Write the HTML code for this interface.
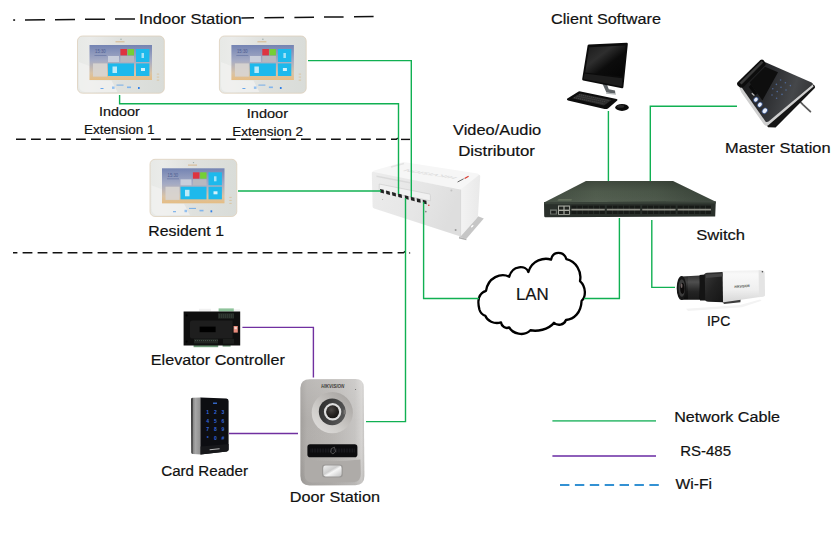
<!DOCTYPE html>
<html lang="en">
<head>
<meta charset="utf-8">
<title>Video Intercom Network Topology</title>
<style>
html,body{margin:0;padding:0;background:#fff;}
body{width:835px;height:556px;overflow:hidden;}
svg{display:block;}
text{font-family:"Liberation Sans",Arial,Helvetica,sans-serif;fill:#111;}
.t1{font-size:15.1px;stroke:#111;stroke-width:0.2px;}
.t2{font-size:13.1px;stroke:#111;stroke-width:0.18px;}
.t3{font-size:16.5px;stroke:#111;stroke-width:0.2px;}
.kp text{font-size:5px;font-weight:bold;fill:#3568de;}
.net{stroke:#10b052;stroke-width:1.4;fill:none;}
.rs{stroke:#7030a0;stroke-width:1.4;fill:none;}
.dash{stroke:#111;stroke-width:1.4;fill:none;}
</style>
</head>
<body>
<svg width="835" height="556" viewBox="0 0 835 556">
<defs>
  <linearGradient id="scr" x1="0" y1="0" x2="0" y2="1">
    <stop offset="0" stop-color="#7484b3"/>
    <stop offset="0.45" stop-color="#a5abc4"/>
    <stop offset="0.8" stop-color="#d9c3a6"/>
    <stop offset="1" stop-color="#e6bd83"/>
  </linearGradient>
  <linearGradient id="bod" x1="0" y1="0" x2="1" y2="0">
    <stop offset="0" stop-color="#e7e9e6"/>
    <stop offset="0.14" stop-color="#eaebe9"/>
    <stop offset="0.5" stop-color="#dfe1de"/>
    <stop offset="1" stop-color="#d9dcd8"/>
  </linearGradient>
  <g id="indoor">
    <rect x="0" y="0" width="86.8" height="57.2" rx="5" ry="5" fill="url(#bod)" stroke="#dccdb8" stroke-width="0.75"/>
    <path d="M1.5 48 Q1.5 56 8 56 L40 56 L34 44.5 L12 44.5 L12 30 L1.5 26 Z" fill="#f1f2f0" opacity="0.75"/>
    <rect x="12" y="9" width="62.5" height="35" fill="url(#scr)"/>
    <rect x="42.9" y="13" width="6.6" height="6.4" fill="#de3440"/>
    <rect x="50.1" y="13" width="6.4" height="6.4" fill="#74cf35"/>
    <rect x="30.5" y="20" width="11" height="6" fill="#c9cedb"/>
    <rect x="42.9" y="20" width="13.6" height="6" fill="#b7b8bf"/>
    <rect x="58.5" y="13" width="13.4" height="13" fill="#1db9ec"/>
    <rect x="30.5" y="27.4" width="26" height="12.6" fill="#1db9ec"/>
    <rect x="58.5" y="27.4" width="13.4" height="12.6" fill="#1db9ec"/>
    <rect x="15.5" y="27.4" width="14" height="13.2" fill="#d8d5d2" opacity="0.9"/>
    <text x="17.6" y="17.4" textLength="10.6" lengthAdjust="spacingAndGlyphs" style="font-size:4.6px;fill:#44538a;opacity:0.85">15:30</text>
    <rect x="17" y="19" width="12" height="1" fill="#56659a" opacity="0.5"/>
    <rect x="35" y="30.5" width="4.5" height="6.5" fill="#d9f3fc" opacity="0.85"/>
    <rect x="63.5" y="32" width="4" height="3" fill="#e9f8fd" opacity="0.9"/>
    <rect x="64" y="17" width="2.5" height="5" fill="#c8eefa" opacity="0.8"/>
    <rect x="38" y="5.3" width="9" height="1" fill="#d2a873" opacity="0.75"/>
    <circle cx="43.5" cy="3.3" r="0.7" fill="#9aa"/>
    <rect x="23" y="52" width="3" height="0.9" fill="#5aa0ea"/>
    <rect x="34.5" y="50.5" width="2.6" height="2.4" fill="#7ab4f0" opacity="0.8"/>
    <rect x="39" y="48.6" width="7" height="1" fill="#5aa0ea" opacity="0.8"/>
    <rect x="49.5" y="50.5" width="4" height="1.6" fill="#6aaaf0" opacity="0.8"/>
    <rect x="60.5" y="51" width="1.7" height="2" fill="#2f7fe6"/>
    <g fill="#d9c6a4"><rect x="79.3" y="37.6" width="2.4" height="1"/><rect x="79.3" y="40.6" width="2.4" height="1"/><rect x="79.3" y="43.6" width="2.4" height="1"/></g>
  </g>
</defs>

<rect x="0" y="0" width="835" height="556" fill="#ffffff"/>

<!-- dashed separators -->
<g class="dash">
  <rect x="13.2" y="19.2" width="1.9" height="1.7" fill="#222" stroke="none"/>
  <path d="M25 19.9 L135 18.9" stroke-dasharray="20 10" stroke-width="1.5"/>
  <path d="M241.4 17.9 L254 17.8 M264.4 17.7 L284 17.5 M294.4 17.4 L314 17.2 M324 17.1 L343.6 16.9 M354 16.8 L373.6 16.6" stroke-width="1.5"/>
  <path d="M16 139.3 L396.4 139.3 L397.8 137.9" stroke-dasharray="9.8 5.2"/>
  <path d="M401 139.4 H410"/>
  <path d="M13 252.7 L403.4 252.7 L405.2 251.4" stroke-dasharray="9.8 5.2" stroke-dashoffset="5.4"/>
  <circle cx="409.6" cy="252.9" r="0.7" fill="#111" stroke="none"/>
</g>

<!-- indoor stations -->
<use href="#indoor" x="77.5" y="36"/>
<use href="#indoor" x="219.4" y="36"/>
<use href="#indoor" x="150" y="159.3"/>

<!-- ===== Video/Audio distributor ===== -->
<g id="distributor">
  <defs>
    <linearGradient id="dfront" x1="0" y1="0" x2="1" y2="0.3">
      <stop offset="0" stop-color="#ececec"/><stop offset="0.6" stop-color="#e6e6e6"/><stop offset="1" stop-color="#dedede"/>
    </linearGradient>
    <linearGradient id="dside" x1="0" y1="0" x2="1" y2="0">
      <stop offset="0" stop-color="#f3f3f3"/><stop offset="1" stop-color="#e9e9e9"/>
    </linearGradient>
  </defs>
  <!-- flange -->
  <path d="M459 237 L478 216.2 L483.8 218.4 L466.4 238.8 Z" fill="#c6c6c6"/>
  <path d="M459 237 L466.4 238.8 L466.4 240.2 L459 238.4 Z" fill="#b0b0b0"/>
  <ellipse cx="472.2" cy="226.2" rx="1.6" ry="0.8" fill="#fff" transform="rotate(-45 472.2 226.2)"/>
  <!-- top face -->
  <path d="M373.5 170.8 L401.5 162.4 Q403 161.8 405 162.2 L477.5 173.6 Q480 174.2 479 176 L462 189.6 L372 172.4 Z" fill="#f6f6f6"/>
  <!-- front face -->
  <path d="M371.8 173.5 Q371.6 171.6 373.6 171.9 L460.6 189.4 L460.6 236.6 L374.2 208.6 Q372.6 208 372.6 206.4 Z" fill="url(#dfront)"/>
  <!-- right side -->
  <path d="M460.6 189.4 L478.6 175.2 Q480.2 174.4 480.2 176.4 L478 215.6 Q478 217 477 218 L460.6 236.6 Z" fill="url(#dside)"/>
  <path d="M460.6 189.6 L460.6 236.4" stroke="#d2d2d2" stroke-width="0.8" fill="none"/>
  <!-- top embossing -->
  <path d="M391 167 L404 163.6" stroke="#e4e4e4" stroke-width="1.6" fill="none"/>
  <text x="0" y="0" textLength="52" lengthAdjust="spacingAndGlyphs" transform="matrix(-0.985 -0.155 0.6 -0.36 457.6 177.2)" style="font-size:8px;font-weight:bold;font-style:italic;fill:#dedede">HIKVISION</text>
  <path d="M464.6 178.6 L468.6 176.2" stroke="#d83a30" stroke-width="1.2"/>
  <path d="M457.6 182 L463.6 178.8" stroke="#555" stroke-width="0.9"/>
  <!-- front panels -->
  <path d="M376.5 175.4 L410 182 L410 183.6 L376.5 177 Z" fill="#dadada"/>
  <path d="M379.2 184 L429.4 194 Q430.4 194.2 430.4 195.4 L430.4 200.8 L379.2 190.6 Z" fill="#f1f1f1" stroke="#cfcfcf" stroke-width="0.7"/>
  <!-- ports -->
  <g fill="#222">
    <path d="M380.0 188.9 L383.7 189.8 L384.0 193.4 L380.3 192.5 Z"/>
    <path d="M386.0 190.4 L389.7 191.4 L390.0 195.0 L386.3 194.0 Z"/>
    <path d="M392.0 192.0 L395.7 192.9 L396.0 196.5 L392.3 195.6 Z"/>
    <path d="M398.0 193.5 L401.7 194.4 L402.0 198.0 L398.3 197.1 Z"/>
    <path d="M404.7 195.2 L408.4 196.2 L408.7 199.8 L405.0 198.8 Z"/>
    <path d="M410.7 196.7 L414.4 197.7 L414.7 201.3 L411.0 200.3 Z"/>
    <path d="M416.7 198.3 L420.4 199.2 L420.7 202.8 L417.0 201.9 Z"/>
    <path d="M422.7 199.8 L426.4 200.7 L426.7 204.3 L423.0 203.4 Z"/>
  </g>
  <circle cx="428.8" cy="205.2" r="0.8" fill="#d33"/>
  <circle cx="425.8" cy="211.6" r="0.9" fill="#8a8a8a"/>
  <circle cx="451.4" cy="190.4" r="1" fill="#c2c2c2"/>
  <circle cx="455.6" cy="230" r="1" fill="#9a9a9a"/>
  <circle cx="382.6" cy="199.4" r="0.5" fill="#aaa"/>
</g>

<!-- ===== LAN cloud ===== -->
<g transform="translate(460,238.4) scale(0.2,0.206)">
  <path d="M130 255 C95 265 85 300 97 345 C103 365 115 372 127 376 C135 400 170 418 205 408
           C208 428 228 440 246 432 C262 462 320 478 352 446 C385 452 440 445 470 410
           C488 425 520 422 530 396 C570 392 605 362 608 303 C630 285 632 235 600 207
           C610 160 580 112 532 101 C520 62 465 58 455 103 C420 92 360 105 342 163
           C330 130 262 128 246 186 C205 165 140 190 130 255 Z"
        fill="#fff" stroke="#000" stroke-width="11.6" stroke-linejoin="round"/>
</g>

<!-- ===== Switch ===== -->
<g id="switch">
  <defs>
    <linearGradient id="swtop" x1="0" y1="0" x2="1" y2="0">
      <stop offset="0" stop-color="#414c40"/><stop offset="0.3" stop-color="#515d4e"/><stop offset="0.65" stop-color="#4b5749"/><stop offset="1" stop-color="#384238"/>
    </linearGradient>
    <linearGradient id="swtopv" x1="0" y1="0" x2="0" y2="1">
      <stop offset="0" stop-color="#000" stop-opacity="0.22"/><stop offset="0.5" stop-color="#000" stop-opacity="0.02"/><stop offset="1" stop-color="#fff" stop-opacity="0.03"/>
    </linearGradient>
  </defs>
  <path d="M586 181 L673 181 L715.8 201.8 L544 202.6 Z" fill="url(#swtop)"/>
  <path d="M586 181 L673 181 L715.8 201.8 L544 202.6 Z" fill="url(#swtopv)"/>
  <path d="M544 202.2 L715.8 201.4 L715.2 216.6 L545.4 217.2 Q544.2 217.2 544.2 216 Z" fill="#2a302b"/>
  <path d="M544 202.2 L715.8 201.4 L715.8 203.4 L544 204.2 Z" fill="#394239"/>
  <path d="M558.6 199.2 L572 199.2 L571.2 200.6 L557.4 200.6 Z" fill="#6d7863"/>
  <!-- mgmt port + rj45 -->
  <rect x="550" y="209.4" width="6.9" height="5.1" fill="#6f756e"/>
  <rect x="551.2" y="210.8" width="4.6" height="2.8" fill="#1c1f1c"/>
  <rect x="558" y="205.5" width="11.9" height="9.3" fill="#aaaca3"/>
  <g fill="#20231f">
    <rect x="559" y="206.6" width="4.4" height="3"/><rect x="564.6" y="206.6" width="4.4" height="3"/>
    <rect x="559" y="211" width="4.4" height="3"/><rect x="564.6" y="211" width="4.4" height="3"/>
  </g>
  <!-- sfp cages -->
  <g fill="#171a17">
    <rect x="571.4" y="205.6" width="33.4" height="8.4"/><rect x="606.8" y="205.6" width="33.4" height="8.4"/>
    <rect x="642.2" y="205.6" width="33.4" height="8.4"/><rect x="677.6" y="205.6" width="33.4" height="8.4"/>
  </g>
  <g stroke="#2e352f" stroke-width="8.4" stroke-dasharray="0.7 4.9" fill="none">
    <path d="M576.6 209.8 H604"/><path d="M612 209.8 H640"/><path d="M647.4 209.8 H675"/><path d="M682.8 209.8 H710.6"/>
  </g>
  <g stroke="#8f9087" stroke-width="1.7" fill="none">
    <path d="M571.4 209.6 H604.8"/><path d="M606.8 209.6 H640.2"/><path d="M642.2 209.6 H675.6"/><path d="M677.6 209.6 H711"/>
  </g>
</g>

<!-- ===== Client PC ===== -->
<g id="pc">
  <defs>
    <linearGradient id="mon" x1="0" y1="0" x2="1" y2="1">
      <stop offset="0" stop-color="#1a1a1a"/><stop offset="0.35" stop-color="#2e2e2e"/><stop offset="0.6" stop-color="#0c0c0c"/><stop offset="1" stop-color="#050505"/>
    </linearGradient>
  </defs>
  <!-- stand -->
  <path d="M602.6 84 L606.4 92.6 L615.4 93.8 L615 90.6 L608.8 89.2 L606.4 83 Z" fill="#5f6467"/>
  <path d="M606.4 92.4 L615.6 93.4 L616 94.8 L606 93.8 Z" fill="#aeb2b4"/>
  <!-- monitor -->
  <path d="M587.6 45.4 Q588 44.6 589 44.6 L626.6 42.8 Q628 42.8 627.8 44.2 L623.4 87 Q623.2 88.4 622 88.2 L583.2 80.4 Q582 80.2 582.2 79 Z" fill="#0b0b0b"/>
  <path d="M589.2 47.2 L625.6 45.4 L622.6 76.6 L585.2 72.4 Z" fill="url(#mon)"/>
  <path d="M584.4 73.6 L622.4 78.2 L621.8 86.4 L583.6 79 Z" fill="#1d1d1d"/>
  <!-- keyboard -->
  <path d="M567 98.8 L578.6 91.6 Q579.4 91.2 580.6 91.4 L616.6 99 Q618.2 99.6 617.2 100.6 L608 108.4 Q606.6 109.4 604.6 109 L568 100.6 Q566.4 99.8 567 98.8 Z" fill="#0d0d0d"/>
  <path d="M572 98.2 L580 93.6 L611.6 100 L604 105.4 Z" fill="#2c2c2c"/>
  <path d="M574 97.6 L603.6 103.6 M576.6 96 L606.4 102 M579 94.6 L609 100.6" stroke="#555" stroke-width="0.6" stroke-dasharray="1.2 0.8" fill="none"/>
  <!-- mouse -->
  <ellipse cx="622" cy="107.4" rx="6.8" ry="3.5" fill="#0c0c0c"/>
  <ellipse cx="620.6" cy="106.4" rx="3.6" ry="1.4" fill="#2a2a2a"/>
</g>

<!-- ===== Master station ===== -->
<g id="master">
  <defs>
    <linearGradient id="mst" x1="0" y1="0" x2="1" y2="0.25">
      <stop offset="0" stop-color="#161616"/><stop offset="0.45" stop-color="#2c2d30"/><stop offset="0.8" stop-color="#45474a"/><stop offset="1" stop-color="#38393b"/>
    </linearGradient>
  </defs>
  <!-- stand stick -->
  <path d="M800 101.6 L803.2 104.8 L810.4 111.6" stroke="#5a5a5a" stroke-width="1.8" fill="none" stroke-linecap="round" stroke-linejoin="round"/>
  <!-- black base under the rim -->
  <path d="M766.4 124.4 L768 127.2 L775.6 127.4 L814.8 88 Q815.6 86.6 814.4 85.4 L812 83.6 Z" fill="#151515"/>
  <!-- silver rim -->
  <path d="M739.4 88 L741.4 92.4 L764 124.6 Q765.6 126.4 768 125.6 L813.6 86.4 L812.4 84 L768 121.6 L764.6 120.4 L742 87.6 Z" fill="#cfcfcf"/>
  <!-- body -->
  <path d="M763.6 62 L741 86.6 L765.4 121.4 Q766.8 122.6 768.6 121.6 L812.4 84.8 Q813.4 83.4 811.6 82.4 L766 62.4 Z" fill="url(#mst)"/>
  <!-- screen -->
  <path d="M765 66.8 L778 72.2 L762.4 100.4 L749.6 82.6 Z" fill="#0e0e0e"/>
  <path d="M751 84.6 L757.4 93.4 L755 95.6 L748.6 87 Z" fill="#0b0b0b"/>
  <!-- handset -->
  <path d="M760.4 60 Q762 59 763.4 60 L765.6 63 Q766 64.6 765 65.6 L744 86.6 Q742 88.4 740 87.4 L737.6 85.4 Q736.4 83.8 737.6 82.2 Z" fill="#0d0d0d"/>
  <path d="M761.6 61 L763.4 62.6 L741.6 84.4 L739.6 82.8 Z" fill="#3a3a3a"/>
  <!-- keypad dots -->
  <g fill="#5878b4" opacity="0.75">
    <circle cx="780.6" cy="80" r="0.8"/><circle cx="785.4" cy="82.8" r="0.8"/><circle cx="790.4" cy="85.6" r="0.8"/>
    <circle cx="776.4" cy="84.4" r="0.8"/><circle cx="781" cy="87.2" r="0.8"/><circle cx="786" cy="90" r="0.8"/>
    <circle cx="772.8" cy="88.8" r="0.8"/><circle cx="777.2" cy="91.6" r="0.8"/><circle cx="782" cy="94.4" r="0.8"/>
    <circle cx="772" cy="95" r="0.8"/><circle cx="776.6" cy="98.2" r="0.8"/>
  </g>
  <rect x="751.6" y="93.6" width="3.4" height="1.2" fill="#bbb" transform="rotate(40 753 94)"/>
  <!-- buttons -->
  <g fill="#4b74c8" opacity="0.55">
    <ellipse cx="755.9" cy="99.6" rx="2.5" ry="3" transform="rotate(40 755.9 99.6)"/>
    <ellipse cx="759.9" cy="104.7" rx="2.6" ry="3.1" transform="rotate(40 759.9 104.7)"/>
    <ellipse cx="764.8" cy="110.8" rx="2.8" ry="3.4" transform="rotate(40 764.8 110.8)"/>
  </g>
  <g fill="#e6ecf8">
    <ellipse cx="755.9" cy="99.6" rx="1.6" ry="2.2" transform="rotate(40 755.9 99.6)"/>
    <ellipse cx="759.9" cy="104.7" rx="1.7" ry="2.3" transform="rotate(40 759.9 104.7)"/>
    <ellipse cx="764.8" cy="110.8" rx="1.9" ry="2.6" transform="rotate(40 764.8 110.8)"/>
  </g>
</g>

<!-- ===== IPC camera ===== -->
<g id="ipc">
  <defs>
    <linearGradient id="camb" x1="0" y1="0" x2="0" y2="1">
      <stop offset="0" stop-color="#efefef"/><stop offset="0.12" stop-color="#f9f9f9"/><stop offset="0.6" stop-color="#efefef"/><stop offset="1" stop-color="#d6d6d6"/>
    </linearGradient>
    <linearGradient id="lens" x1="0" y1="0" x2="0" y2="1">
      <stop offset="0" stop-color="#262626"/><stop offset="0.28" stop-color="#444"/><stop offset="0.65" stop-color="#181818"/><stop offset="1" stop-color="#0a0a0a"/>
    </linearGradient>
    <linearGradient id="camk" x1="0" y1="0" x2="1" y2="1">
      <stop offset="0" stop-color="#3a3a3a"/><stop offset="0.5" stop-color="#222"/><stop offset="1" stop-color="#151515"/>
    </linearGradient>
  </defs>
  <!-- reflection -->
  <path d="M686 308.8 L740 305 L760 299.4 L761.6 300.8 L742 307.2 L688 311 Z" fill="#f3f3f3"/>
  <!-- mount -->
  <path d="M721.6 300.4 L740.8 297.8 L740.4 302.2 L724 304 Z" fill="#3c3c3c"/>
  <!-- white body -->
  <path d="M720.4 272.2 Q720.4 271 722 270.9 L761.6 270.2 Q764.4 270.2 764.6 272.6 L765 294.4 Q765 296.2 763.2 296.6 L722 302.4 Z" fill="url(#camb)"/>
  <path d="M758.6 270.3 L761.6 270.2 Q764.4 270.2 764.6 272.6 L765 294.4 Q765 296.2 763.2 296.6 L759 297.2 Z" fill="#e4e4e4"/>
  <circle cx="762.4" cy="271.8" r="0.8" fill="#444"/>
  <text x="734.6" y="288" textLength="15.2" lengthAdjust="spacingAndGlyphs" transform="rotate(-4 734.6 288)" style="font-size:3.6px;font-weight:bold;font-style:italic;fill:#444">HIKVISION</text>
  <!-- black front housing -->
  <path d="M703.6 276 Q704 273.2 707.4 272.8 L722.6 272 L723 302.2 L708.6 301.8 Q704.6 301.4 704.2 298 Z" fill="url(#camk)"/>
  <path d="M706 274.4 L722.6 273.2 L722.6 276.4 L706 278 Z" fill="#444"/>
  <!-- lens barrel -->
  <path d="M681.4 276.4 L704.6 275.2 L705 299.8 L681.4 299.8 Z" fill="url(#lens)"/>
  <path d="M688 276.2 L699 275.6 L699.4 299.8 L688 299.8 Z" fill="#fff" opacity="0.06"/>
  <path d="M699.6 275 L704.8 274.6 L705.2 300.6 L700 300.4 Z" fill="#141414"/>
  <ellipse cx="681.5" cy="287.9" rx="4.8" ry="12" fill="#151515"/>
  <ellipse cx="681.8" cy="288" rx="3.3" ry="8.8" fill="#3c3c3c"/>
  <ellipse cx="682.4" cy="288.4" rx="2.2" ry="5.6" fill="#0c0a0a"/>
  <ellipse cx="681.6" cy="285.8" rx="0.9" ry="2.2" fill="#8a7a7a" opacity="0.8"/>
</g>

<!-- ===== Elevator controller ===== -->
<g id="elev">
  <rect x="218.6" y="308.4" width="15.2" height="3.2" fill="#8fc39b"/>
  <rect x="199" y="308.8" width="12" height="2.6" fill="#f1f1f1"/>
  <rect x="193.6" y="343.6" width="24.6" height="3.6" fill="#6e9a78"/>
  <rect x="222.6" y="343.6" width="8" height="3" fill="#6e9a78"/>
  <rect x="234" y="309" width="6" height="3" fill="#f4f4f4"/>
  <path d="M183.6 311.4 H240.2 V345.6 H183.6 Z" fill="#0f0f0f"/>
  <path d="M190 322.6 Q190 320.4 192.4 320.4 H232.6 V338.6 H192.4 Q190 338.6 190 336.4 Z" fill="#1e1e1e"/>
  <rect x="199.6" y="326.6" width="16" height="5.6" fill="#000"/>
  <rect x="218" y="313.2" width="16" height="5.4" fill="#252a26"/>
  <path d="M219 315 H233.6 M219 317 H233.6" stroke="#4c5a50" stroke-width="0.6" stroke-dasharray="1 1" fill="none"/>
  <rect x="194" y="338.8" width="24" height="4.6" fill="#222623"/>
  <path d="M195 340.6 H217.6" stroke="#56655a" stroke-width="0.7" stroke-dasharray="1 1" fill="none"/>
  <rect x="223" y="338.8" width="11" height="5" fill="#1d1f1d"/>
  <circle cx="186.6" cy="315.4" r="1.1" fill="#000"/><circle cx="186.6" cy="341.6" r="1.1" fill="#000"/>
  <rect x="233.6" y="326" width="4.2" height="6.6" fill="#e98c7c"/>
  <rect x="234.4" y="327" width="2.4" height="2.2" fill="#f6d6cf"/>
</g>

<!-- ===== Card reader ===== -->
<g id="card">
  <defs>
    <linearGradient id="crs" x1="0" y1="0" x2="1" y2="0">
      <stop offset="0" stop-color="#6e6e6e"/><stop offset="0.45" stop-color="#a6a6a6"/><stop offset="1" stop-color="#8c8c8c"/>
    </linearGradient>
  </defs>
  <path d="M191 399.6 Q191 397.9 192.8 397.8 L201 397.4 L201 454.4 L193 454 Q191.4 453.8 191.4 452.4 Z" fill="url(#crs)"/>
  <path d="M191 399.6 Q191 397.9 192.8 397.8 L192.6 454 Q191.4 453.8 191.4 452.4 Z" fill="#3a3a3a"/>
  <path d="M200.6 397.4 L226.4 398.6 Q228.6 398.8 228.6 401 L228.6 449.6 Q228.6 451.2 226.8 451.4 L200.6 454.4 Z" fill="#0d0e12"/>
  <path d="M200.6 446.4 L228.6 444 L228.6 449.6 Q228.6 451.2 226.8 451.4 L200.6 454.4 Z" fill="#17181b"/>
  <rect x="213" y="402.6" width="4" height="1.2" fill="#3d7cf0"/>
  <g class="kp" text-anchor="middle">
    <text x="207.7" y="414.2">1</text>
    <text x="215.3" y="414.2">2</text>
    <text x="223.0" y="414.2">3</text>
    <text x="207.7" y="422.6">4</text>
    <text x="215.3" y="422.6">5</text>
    <text x="223.0" y="422.6">6</text>
    <text x="207.7" y="431.4">7</text>
    <text x="215.3" y="431.4">8</text>
    <text x="223.0" y="431.4">9</text>
    <text x="207.7" y="439.8">*</text>
    <text x="215.3" y="439.8">0</text>
    <text x="223.0" y="439.8">#</text>
  </g>
  <path d="M209.6 449.8 L219.6 448.8" stroke="#bbb" stroke-width="1.1" fill="none"/>
</g>

<!-- ===== Door station ===== -->
<g id="door">
  <defs>
    <linearGradient id="dsb" x1="0" y1="0" x2="1" y2="0">
      <stop offset="0" stop-color="#a29f9c"/><stop offset="0.1" stop-color="#b1aeab"/><stop offset="0.5" stop-color="#b9b6b3"/><stop offset="0.85" stop-color="#c6c4c2"/><stop offset="0.96" stop-color="#d6d4d2"/><stop offset="1" stop-color="#c4c2c0"/>
    </linearGradient>
    <linearGradient id="dsb2" x1="0" y1="0" x2="0" y2="1">
      <stop offset="0" stop-color="#fff" stop-opacity="0.14"/><stop offset="0.4" stop-color="#fff" stop-opacity="0"/><stop offset="1" stop-color="#000" stop-opacity="0.07"/>
    </linearGradient>
    <linearGradient id="dsring" x1="0.85" y1="0.1" x2="0.15" y2="0.9">
      <stop offset="0" stop-color="#a9a6a3"/><stop offset="0.35" stop-color="#bcb9b6"/><stop offset="0.7" stop-color="#d0cecb"/><stop offset="1" stop-color="#dcdad8"/>
    </linearGradient>
    <linearGradient id="dsdark" x1="0" y1="0" x2="1" y2="0.4">
      <stop offset="0" stop-color="#2b2b2b"/><stop offset="1" stop-color="#555"/>
    </linearGradient>
    <radialGradient id="dslens" cx="0.4" cy="0.35" r="0.7">
      <stop offset="0" stop-color="#4a4644"/><stop offset="0.6" stop-color="#262321"/><stop offset="1" stop-color="#151312"/>
    </radialGradient>
    <linearGradient id="dsbtn" x1="0" y1="0" x2="1" y2="1">
      <stop offset="0" stop-color="#f0f0f0"/><stop offset="0.42" stop-color="#cdcdcd"/><stop offset="0.55" stop-color="#f6f6f6"/><stop offset="1" stop-color="#c2c2c2"/>
    </linearGradient>
  </defs>
  <path d="M300.4 388 Q300.4 379.4 310 379.2 L355.4 379 Q363.6 379.2 363.7 387 L364.4 476 Q364.4 485 355.4 485.2 L309.4 485.4 Q300.4 485.2 300.4 476 Z" fill="url(#dsb)"/>
  <path d="M300.4 388 Q300.4 379.4 310 379.2 L355.4 379 Q363.6 379.2 363.7 387 L364.4 476 Q364.4 485 355.4 485.2 L309.4 485.4 Q300.4 485.2 300.4 476 Z" fill="url(#dsb2)"/>
  <!-- lower panel -->
  <path d="M304.8 459.4 Q333 463 360.4 459.4 L360.8 474 Q360.8 481.8 353.6 482.2 L311.6 482.4 Q304.6 482.2 304.6 475 Z" fill="#aeaba8"/>
  <!-- logo -->
  <text x="321.2" y="388.4" textLength="23" lengthAdjust="spacingAndGlyphs" style="font-size:4.6px;font-weight:bold;font-style:italic;fill:#3e3c3a">HIKVISION</text>
  <circle cx="355.6" cy="389.6" r="0.5" fill="#555"/>
  <!-- camera -->
  <circle cx="332.3" cy="412.6" r="20.6" fill="url(#dsring)"/>
  <circle cx="332.2" cy="411.8" r="13.4" fill="url(#dsdark)"/>
  <path d="M343.6 409.6 L345.6 410.2 L345.6 414 L343.6 414.4 Z" fill="#777573"/>
  <circle cx="332.6" cy="411.8" r="8.7" fill="#dedede"/>
  <circle cx="332.6" cy="411.8" r="6.5" fill="url(#dslens)"/>
  <!-- black strip -->
  <rect x="307.4" y="444.2" width="50" height="13" rx="2.8" ry="2.8" fill="#0c0c0e"/>
  <path d="M310.6 450.6 H354.6" stroke="#1e1e24" stroke-width="4" stroke-dasharray="0.8 0.8" fill="none"/>
  <path d="M331.4 448.6 L334.4 447.2 L335.6 451.6 L333 454 L330.6 452.2 Z" fill="none" stroke="#6a6a6a" stroke-width="0.7"/>
  <!-- button -->
  <rect x="322" y="464.4" width="20.8" height="13.2" rx="3" ry="3" fill="#9a9896"/>
  <rect x="323.2" y="465.5" width="18.4" height="11" rx="2.4" ry="2.4" fill="url(#dsbtn)"/>
</g>
<!-- END-DEVICES -->
<!-- network cables -->
<g class="net">
  <path d="M119.6 95 V103.7 H398.5 V194"/>
  <path d="M308 60.6 H411.3 V197"/>
  <path d="M238 191 H381"/>
  <path d="M405.5 198 V421.6 H366"/>
  <path d="M423.6 202 V298.5 H479"/>
  <path d="M584 298.5 H619.4 V218"/>
  <path d="M608.4 111 V181"/>
  <path d="M737 106.3 H650.3 V181"/>
  <path d="M651.8 220 V287.4 H675"/>
</g>
<!-- RS-485 -->
<g class="rs">
  <path d="M242.4 327.4 H313.4 V377.6"/>
  <path d="M229 433.5 H298"/>
</g>



<!-- labels -->
<text class="t1" x="139.0" y="23.6" textLength="102.8" lengthAdjust="spacingAndGlyphs">Indoor Station</text>
<text class="t2" x="99.0" y="115.6" textLength="40.8" lengthAdjust="spacingAndGlyphs">Indoor</text>
<text class="t2" x="84.0" y="133.6" textLength="70.6" lengthAdjust="spacingAndGlyphs">Extension 1</text>
<text class="t2" x="246.8" y="117.7" textLength="41.2" lengthAdjust="spacingAndGlyphs">Indoor</text>
<text class="t2" x="232.2" y="135.6" textLength="70.8" lengthAdjust="spacingAndGlyphs">Extension 2</text>
<text class="t1" x="148.2" y="236.4" textLength="75.8" lengthAdjust="spacingAndGlyphs">Resident 1</text>
<text class="t1" x="453.0" y="135" textLength="88.2" lengthAdjust="spacingAndGlyphs">Video/Audio</text>
<text class="t1" x="458.2" y="155.6" textLength="76.8" lengthAdjust="spacingAndGlyphs">Distributor</text>
<text class="t1" x="551.0" y="23.6" textLength="110.0" lengthAdjust="spacingAndGlyphs">Client Software</text>
<text class="t1" x="725.0" y="152.6" textLength="105.6" lengthAdjust="spacingAndGlyphs">Master Station</text>
<text class="t1" x="696.2" y="240.4" textLength="48.8" lengthAdjust="spacingAndGlyphs">Switch</text>
<text class="t3" x="516.0" y="299.6" textLength="32.8" lengthAdjust="spacingAndGlyphs">LAN</text>
<text class="t1" x="707.0" y="326.4" textLength="23.2" lengthAdjust="spacingAndGlyphs">IPC</text>
<text class="t1" x="150.8" y="364.8" textLength="134.0" lengthAdjust="spacingAndGlyphs">Elevator Controller</text>
<text class="t1" x="161.2" y="475.6" textLength="86.8" lengthAdjust="spacingAndGlyphs">Card Reader</text>
<text class="t1" x="289.8" y="502.4" textLength="90.2" lengthAdjust="spacingAndGlyphs">Door Station</text>
<text class="t1" x="674.2" y="421.6" textLength="105.8" lengthAdjust="spacingAndGlyphs">Network Cable</text>
<text class="t1" x="680.2" y="456.2" textLength="50.8" lengthAdjust="spacingAndGlyphs">RS-485</text>
<text class="t1" x="675.6" y="489.2" textLength="36.4" lengthAdjust="spacingAndGlyphs">Wi-Fi</text>

<!-- legend -->
<path d="M552.4 420.9 H656" stroke="#4cc27f" stroke-width="1.9" fill="none"/>
<path d="M552.4 456 H656" stroke="#8e5fba" stroke-width="1.9" fill="none"/>
<path d="M560 485 H659" stroke="#3391d3" stroke-width="1.8" stroke-dasharray="9.4 5.5" fill="none"/>
</svg>
</body>
</html>
